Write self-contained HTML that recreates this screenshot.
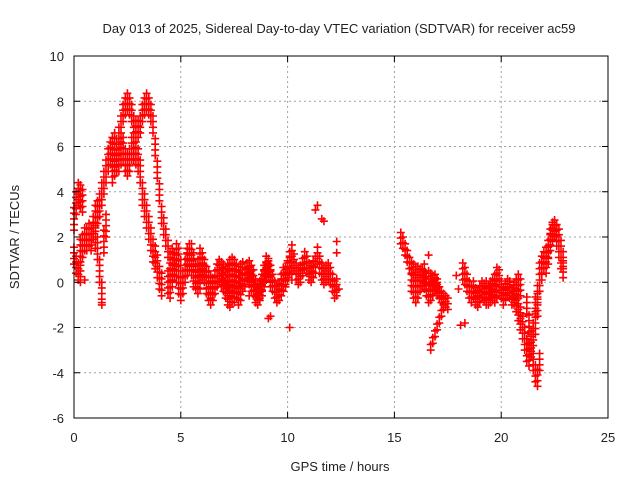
<!DOCTYPE html>
<html><head><meta charset="utf-8"><style>
html,body{margin:0;padding:0;background:#fff}
svg text{font-family:"Liberation Sans",sans-serif;font-size:13px;fill:#222}
</style></head><body>
<svg id="chart" width="640" height="480" xmlns="http://www.w3.org/2000/svg">
<text x="339" y="33" text-anchor="middle">Day 013 of 2025, Sidereal Day-to-day VTEC variation (SDTVAR) for receiver ac59</text>
<text x="340" y="471" text-anchor="middle">GPS time / hours</text>
<text transform="translate(19,237) rotate(-90)" text-anchor="middle">SDTVAR / TECUs</text>
<g id="grid"></g>
<g id="marks"></g>
<rect x="74" y="56" width="534" height="362" fill="none" stroke="#000" stroke-width="1"/>
<g id="axes"></g>
</svg>
<script>
const xTicks=[0,5,10,15,20,25];
const yTicks=[-6,-4,-2,0,2,4,6,8,10];
// tracks: start time (hours), step 0.1h, values (TECU), scatter half-width (TECU)
const trackStarts=[0.0,0.0,0.3,1.9,1.8,1.0,4.4,4.6,8.0,7.5,15.3,15.8,16.7,18.2,19.3,20.6,21.2,21.6,21.8];
const trackValues=[
[2.8,3.5,3.9,3.8,3.6],
[1.2,0.8,0.5,0.4],
[1.5,1.7,2.0,2.0,2.2,2.0,2.5,3.0,3.2,3.5,4.0,4.5,5.0,5.5,5.8,6.0,6.2],
[5.5,6.0,6.5,7.0,7.5,7.8,8.0,7.8,7.5,7.0,6.8,6.8,7.0,7.5,7.8,8.0,7.8,7.5,7.0,6.0,5.0,4.0,3.0,2.5,2.0,1.5,1.0,0.5],
[5.0,5.3,5.5,5.5,5.8,6.0,5.5,5.3,5.5,6.0,6.0,5.8,5.5,5.0,4.0,3.5,3.0,2.5,2.0,1.5,1.2,0.8,0.3,0.0],
[2.0,1.5,0.5,-0.5,1.8,2.5],
[0,-0.2,0.3,0.8,1.2,1,0.5,0,0.5,1,1.2,0.8,0.3,0.2,0.5,1,0.8,0.5,0.2,0,-0.2,-0.3,0,0.3,0.5,0.4,0.3,0.2,0.3,0.5,0.6,0.5,0.3,0.2,0.3,0.4],
[1,0.8,0.5,0,-0.3,0,0.5,0.8,1,1.2,0.8,0.3,0,0.2,0.6,0.5,0,-0.3,-0.5,-0.3,0,0.3,0.5,0.3,0.1,-0.2,-0.5,-0.6,-0.4,-0.2,0,0.2,0.3],
[0.3,0.5,0.6,0.4,0.2,-0.2,-0.4,-0.3,0,0.4,0.8,0.6,0.2,0,-0.3,-0.5,-0.4,0,0.3,0.2,0.5,1,1.3,0.9,0.5,0.3,0.4,0.7,1,0.8,0.5,0.4,0.6,0.8,1.2,0.8,0.5,0.3,0.4,0.5,0.3,0,-0.3,-0.2],
[-0.5,-0.3,-0.6,-0.4,0,0.2,0.5,0.3,0,-0.2,-0.5,-0.6,-0.4,-0.2,0.2,0.5,0.7,0.4,0,-0.3,-0.5,-0.4,-0.2,0,0.3,0.6,0.8,0.5],
[2,1.8,1.5,1.2,0.9,0.7,0.6,0.5,0.5,0.4,0.4,0.3,0.2,0.3,0.2,0.1,0,-0.2,-0.4,-0.6,-0.7,-0.8,-0.9],
[0,-0.3,-0.5,-0.3,0,0.2,0.1,-0.2,-0.5,-0.4,-0.2,0,-0.2],
[-2.8,-2.5,-2.2,-1.9,-1.6,-1.3,-1.0],
[0.5,0.3,0,-0.3,-0.5,-0.3,-0.6,-0.7,-0.5,-0.3,-0.4,-0.6,-0.5,-0.3,-0.4,-0.5,-0.3,-0.2],
[-0.3,-0.6,-0.5,-0.2,0,0.3,0.2,-0.3,-0.6,-0.4,-0.2,-0.3,-0.6,-0.5,-0.2,0,-0.2],
[-0.5,-0.8,-1.2,-1.6,-2,-2.5,-3,-3.2,-2.8,-2.3,-1.8,-1],
[-1,-1.8,-2.5,-3.5,-4.0,-4.2,-3.5],
[-1,-0.5,0,0.5,1,1.2,1.5,2,2.3,2.4,2.2,2,1.5,1],
[0.5,0.8,1,0.8,1.2,1.8,2.2,2.4,2,1.5,1,0.6]
];
const trackSpread=[0.5,0.4,0.6,0.4,0.6,0.5,0.5,0.5,0.4,0.4,0.3,0.4,0.2,0.4,0.4,0.5,0.4,0.4,0.4];
const isoTimes=[9.1,9.2,10.1,11.3,11.4,11.6,11.7,12.3,12.3,12.4,7.2,8.2,0.5,1.3,16.6,16.4,18.0,17.9,18.3,18.1];
const isoValues=[-1.6,-1.5,-2.0,3.2,3.4,2.8,2.7,1.8,1.3,-0.3,-0.6,-0.6,0.1,-0.9,1.2,0.8,-0.3,0.3,-1.8,-1.9];

const X0=74,X1=608,Y0=418,Y1=56;
const xs=t=>X0+(t-0)/25*(X1-X0);
const ys=v=>Y0-(v+6)/16*(Y0-Y1);
const NS="http://www.w3.org/2000/svg";
const grid=document.getElementById('grid'),axes=document.getElementById('axes'),marks=document.getElementById('marks');
function mk(tag,attrs,parent){const e=document.createElementNS(NS,tag);for(const k in attrs)e.setAttribute(k,attrs[k]);parent.appendChild(e);return e;}
xTicks.forEach(t=>{
  const x=xs(t);
  if(t>0&&t<25){const g=mk('line',{x1:x,x2:x,y1:Y1,y2:Y0,stroke:'#a0a0a0','stroke-dasharray':'2,3'},grid);
  
  }
  const tk=mk('line',{x1:x,x2:x,y1:Y0,y2:Y0-6,stroke:'#000'},axes);
  
  
  const tk2=mk('line',{x1:x,x2:x,y1:Y1,y2:Y1+6,stroke:'#000'},axes);
  
  
  const l=mk('text',{x:x,y:442,'text-anchor':'middle'},axes);l.textContent=t;
  
  
});
yTicks.forEach(v=>{
  const y=ys(v);
  if(v>-6&&v<10){const g=mk('line',{x1:X0,x2:X1,y1:y,y2:y,stroke:'#a0a0a0','stroke-dasharray':'2,3'},grid);
  
  }
  const tk=mk('line',{x1:X0,x2:X0+6,y1:y,y2:y,stroke:'#000'},axes);
  
  
  const tk2=mk('line',{x1:X1,x2:X1-6,y1:y,y2:y,stroke:'#000'},axes);
  
  
  const l=mk('text',{x:X0-10,y:y+5,'text-anchor':'end'},axes);l.textContent=v;
  
  
});
let d='';
function plus(t,v){const x=xs(t),y=ys(v);d+=`M${(x-4).toFixed(1)} ${y.toFixed(1)}h8M${x.toFixed(1)} ${(y-4).toFixed(1)}v8`;}
trackValues.forEach((vals,i)=>{
  const s=trackSpread[i];
  vals.forEach((v,j)=>{
    const t=trackStarts[i]+j*0.1;
    for(let o=-s;o<=s+1e-6;o+=0.25) plus(t,v+o);
  });
});
isoTimes.forEach((t,i)=>plus(t,isoValues[i]));
const p=mk('path',{d:d,stroke:'#ff0000','stroke-width':'1.6',fill:'none'},marks);


</script>
</body></html>
